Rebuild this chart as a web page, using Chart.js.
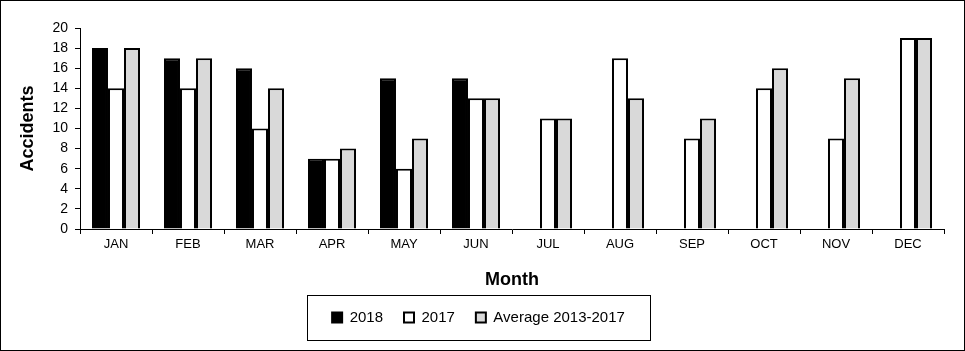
<!DOCTYPE html>
<html lang="en">
<head>
    <meta charset="UTF-8">
    <title>Accidents by Month</title>
    <script src="https://cdn.jsdelivr.net/npm/chart.js"></script>
    <style>
        body {
            margin: 0;
            padding: 0;
            background: #ffffff;
        }
        .marco {
            width: 963px;
            height: 349px;
            border: 1px solid #000;
            background: #fff;
        }
    </style>
</head>
<body>
    <div class="marco">
        <canvas id="grafico" width="963" height="349"></canvas>
    </div>
    <script>
        // Datos
        const meses = ["JAN", "FEB", "MAR", "APR", "MAY", "JUN", "JUL", "AUG", "SEP", "OCT", "NOV", "DEC"];
        const datos2018 = [18, 17, 16, 7, 15, 15, null, null, null, null, null, null];
        const datos2017 = [14, 14, 10, 7, 6, 13, 11, 17, 9, 14, 9, 19];
        const promedio = [18, 17, 14, 8, 9, 13, 11, 13, 11, 16, 15, 19];
        const ticksY = [0, 2, 4, 6, 8, 10, 12, 14, 16, 18, 20];

        const fuente = "Arial, 'Liberation Sans', sans-serif";

        // Recuadro alrededor de la leyenda
        const marcoLeyenda = {
            id: 'marcoLeyenda',
            afterDraw(chart) {
                const cajas = chart.legend.legendHitBoxes;
                if (!cajas || !cajas.length) return;
                let izq = Infinity, der = -Infinity, cy = 0;
                cajas.forEach(c => {
                    izq = Math.min(izq, c.left);
                    der = Math.max(der, c.left + c.width);
                    cy += c.top + c.height / 2;
                });
                cy = cy / cajas.length;
                const cx = (izq + der) / 2;
                const ancho = der - izq + 50;
                const ctx = chart.ctx;
                ctx.save();
                ctx.strokeStyle = '#000';
                ctx.lineWidth = 1;
                ctx.strokeRect(Math.round(cx - ancho / 2) + 0.5, Math.round(cy - 23) + 0.5, Math.round(ancho), 45);
                ctx.restore();
            }
        };

        new Chart(document.getElementById('grafico'), {
            type: 'bar',
            data: {
                labels: meses,
                datasets: [
                    {
                        label: '2018',
                        data: datos2018,
                        backgroundColor: '#000000',
                        borderColor: '#000000',
                        borderWidth: 2
                    },
                    {
                        label: '2017',
                        data: datos2017,
                        backgroundColor: '#ffffff',
                        borderColor: '#000000',
                        borderWidth: 2
                    },
                    {
                        label: 'Average 2013-2017',
                        data: promedio,
                        backgroundColor: '#d9d9d9',
                        borderColor: '#000000',
                        borderWidth: 2
                    }
                ]
            },
            options: {
                responsive: false,
                animation: false,
                datasets: {
                    bar: {
                        categoryPercentage: 0.667,
                        barPercentage: 1
                    }
                },
                layout: {
                    padding: { top: 27, right: 20, left: 12, bottom: 15 }
                },
                plugins: {
                    tooltip: { enabled: false },
                    legend: {
                        position: 'bottom',
                        labels: {
                            color: '#000',
                            boxWidth: 10,
                            boxHeight: 10,
                            padding: 21,
                            font: { family: fuente, size: 15 }
                        }
                    }
                },
                scales: {
                    x: {
                        afterFit: s => { s.height = 60; },
                        border: { display: true, color: '#000', width: 1 },
                        grid: {
                            display: true,
                            drawOnChartArea: false,
                            offset: true,
                            tickLength: 5,
                            color: '#000'
                        },
                        ticks: {
                            color: '#000',
                            maxRotation: 0,
                            padding: 3,
                            font: { family: fuente, size: 13 }
                        },
                        title: {
                            display: true,
                            text: 'Month',
                            color: '#000',
                            padding: { top: 4, bottom: 0 },
                            font: { family: fuente, size: 18, weight: 'bold', lineHeight: 1 }
                        }
                    },
                    y: {
                        min: 0,
                        max: 20,
                        afterFit: s => { s.width = 67; },
                        afterBuildTicks: s => { s.ticks = ticksY.map(v => ({ value: v })); },
                        border: { display: true, color: '#000', width: 1 },
                        grid: {
                            display: true,
                            drawOnChartArea: false,
                            tickLength: 5,
                            color: '#000'
                        },
                        ticks: {
                            color: '#000',
                            padding: 7,
                            font: { family: fuente, size: 14 }
                        },
                        title: {
                            display: true,
                            text: 'Accidents',
                            color: '#000',
                            padding: { top: 4, bottom: 4 },
                            font: { family: fuente, size: 18, weight: 'bold' }
                        }
                    }
                }
            },
            plugins: [marcoLeyenda]
        });
    </script>
</body>
</html>
